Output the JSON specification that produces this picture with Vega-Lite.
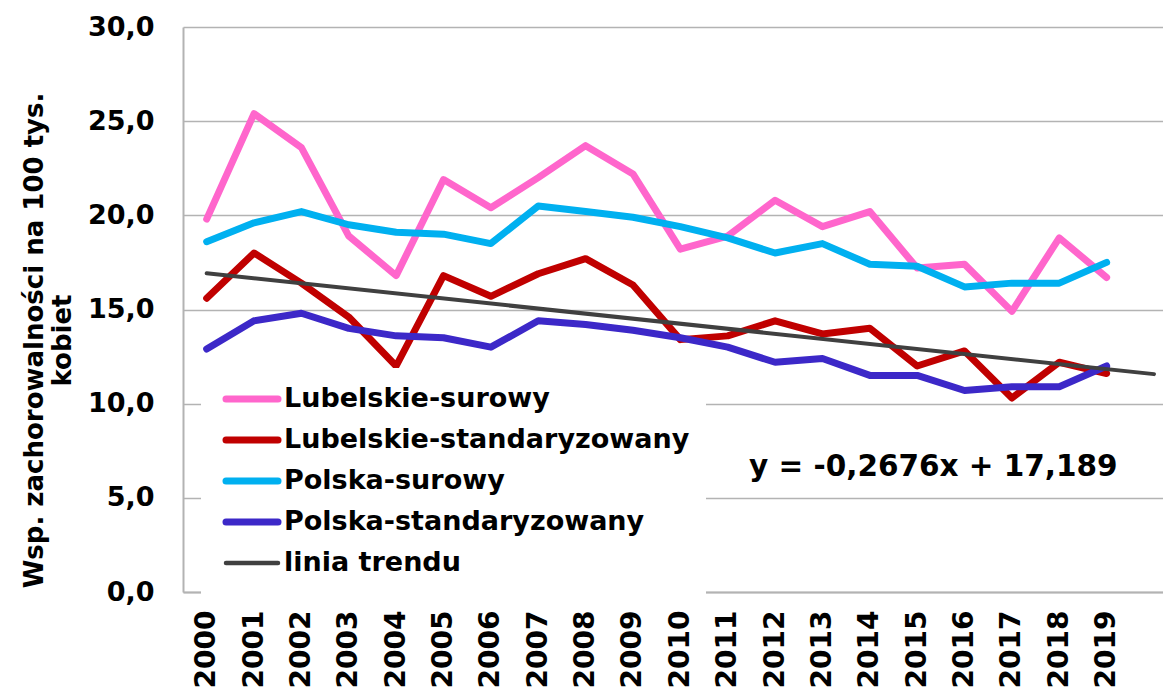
{
  "$schema": "https://vega.github.io/schema/vega-lite/v6.json",
  "width": 980,
  "height": 565,
  "autosize": {"type": "none"},
  "padding": {"left": 183, "top": 27, "right": 0, "bottom": 101},
  "background": "white",
  "config": {"view": {"stroke": null}, "font": "DejaVu Sans"},
  "data": {"values": [
    {"year": 2000, "series": "Lubelskie-surowy", "value": 19.8},
    {"year": 2001, "series": "Lubelskie-surowy", "value": 25.4},
    {"year": 2002, "series": "Lubelskie-surowy", "value": 23.6},
    {"year": 2003, "series": "Lubelskie-surowy", "value": 18.9},
    {"year": 2004, "series": "Lubelskie-surowy", "value": 16.8},
    {"year": 2005, "series": "Lubelskie-surowy", "value": 21.9},
    {"year": 2006, "series": "Lubelskie-surowy", "value": 20.4},
    {"year": 2007, "series": "Lubelskie-surowy", "value": 22.0},
    {"year": 2008, "series": "Lubelskie-surowy", "value": 23.7},
    {"year": 2009, "series": "Lubelskie-surowy", "value": 22.2},
    {"year": 2010, "series": "Lubelskie-surowy", "value": 18.2},
    {"year": 2011, "series": "Lubelskie-surowy", "value": 18.9},
    {"year": 2012, "series": "Lubelskie-surowy", "value": 20.8},
    {"year": 2013, "series": "Lubelskie-surowy", "value": 19.4},
    {"year": 2014, "series": "Lubelskie-surowy", "value": 20.2},
    {"year": 2015, "series": "Lubelskie-surowy", "value": 17.2},
    {"year": 2016, "series": "Lubelskie-surowy", "value": 17.4},
    {"year": 2017, "series": "Lubelskie-surowy", "value": 14.9},
    {"year": 2018, "series": "Lubelskie-surowy", "value": 18.8},
    {"year": 2019, "series": "Lubelskie-surowy", "value": 16.7},
    {"year": 2000, "series": "Lubelskie-standaryzowany", "value": 15.6},
    {"year": 2001, "series": "Lubelskie-standaryzowany", "value": 18.0},
    {"year": 2002, "series": "Lubelskie-standaryzowany", "value": 16.4},
    {"year": 2003, "series": "Lubelskie-standaryzowany", "value": 14.6},
    {"year": 2004, "series": "Lubelskie-standaryzowany", "value": 12.0},
    {"year": 2005, "series": "Lubelskie-standaryzowany", "value": 16.8},
    {"year": 2006, "series": "Lubelskie-standaryzowany", "value": 15.7},
    {"year": 2007, "series": "Lubelskie-standaryzowany", "value": 16.9},
    {"year": 2008, "series": "Lubelskie-standaryzowany", "value": 17.7},
    {"year": 2009, "series": "Lubelskie-standaryzowany", "value": 16.3},
    {"year": 2010, "series": "Lubelskie-standaryzowany", "value": 13.4},
    {"year": 2011, "series": "Lubelskie-standaryzowany", "value": 13.6},
    {"year": 2012, "series": "Lubelskie-standaryzowany", "value": 14.4},
    {"year": 2013, "series": "Lubelskie-standaryzowany", "value": 13.7},
    {"year": 2014, "series": "Lubelskie-standaryzowany", "value": 14.0},
    {"year": 2015, "series": "Lubelskie-standaryzowany", "value": 12.0},
    {"year": 2016, "series": "Lubelskie-standaryzowany", "value": 12.8},
    {"year": 2017, "series": "Lubelskie-standaryzowany", "value": 10.3},
    {"year": 2018, "series": "Lubelskie-standaryzowany", "value": 12.2},
    {"year": 2019, "series": "Lubelskie-standaryzowany", "value": 11.6},
    {"year": 2000, "series": "Polska-surowy", "value": 18.6},
    {"year": 2001, "series": "Polska-surowy", "value": 19.6},
    {"year": 2002, "series": "Polska-surowy", "value": 20.2},
    {"year": 2003, "series": "Polska-surowy", "value": 19.5},
    {"year": 2004, "series": "Polska-surowy", "value": 19.1},
    {"year": 2005, "series": "Polska-surowy", "value": 19.0},
    {"year": 2006, "series": "Polska-surowy", "value": 18.5},
    {"year": 2007, "series": "Polska-surowy", "value": 20.5},
    {"year": 2008, "series": "Polska-surowy", "value": 20.2},
    {"year": 2009, "series": "Polska-surowy", "value": 19.9},
    {"year": 2010, "series": "Polska-surowy", "value": 19.4},
    {"year": 2011, "series": "Polska-surowy", "value": 18.8},
    {"year": 2012, "series": "Polska-surowy", "value": 18.0},
    {"year": 2013, "series": "Polska-surowy", "value": 18.5},
    {"year": 2014, "series": "Polska-surowy", "value": 17.4},
    {"year": 2015, "series": "Polska-surowy", "value": 17.3},
    {"year": 2016, "series": "Polska-surowy", "value": 16.2},
    {"year": 2017, "series": "Polska-surowy", "value": 16.4},
    {"year": 2018, "series": "Polska-surowy", "value": 16.4},
    {"year": 2019, "series": "Polska-surowy", "value": 17.5},
    {"year": 2000, "series": "Polska-standaryzowany", "value": 12.9},
    {"year": 2001, "series": "Polska-standaryzowany", "value": 14.4},
    {"year": 2002, "series": "Polska-standaryzowany", "value": 14.8},
    {"year": 2003, "series": "Polska-standaryzowany", "value": 14.0},
    {"year": 2004, "series": "Polska-standaryzowany", "value": 13.6},
    {"year": 2005, "series": "Polska-standaryzowany", "value": 13.5},
    {"year": 2006, "series": "Polska-standaryzowany", "value": 13.0},
    {"year": 2007, "series": "Polska-standaryzowany", "value": 14.4},
    {"year": 2008, "series": "Polska-standaryzowany", "value": 14.2},
    {"year": 2009, "series": "Polska-standaryzowany", "value": 13.9},
    {"year": 2010, "series": "Polska-standaryzowany", "value": 13.5},
    {"year": 2011, "series": "Polska-standaryzowany", "value": 13.0},
    {"year": 2012, "series": "Polska-standaryzowany", "value": 12.2},
    {"year": 2013, "series": "Polska-standaryzowany", "value": 12.4},
    {"year": 2014, "series": "Polska-standaryzowany", "value": 11.5},
    {"year": 2015, "series": "Polska-standaryzowany", "value": 11.5},
    {"year": 2016, "series": "Polska-standaryzowany", "value": 10.7},
    {"year": 2017, "series": "Polska-standaryzowany", "value": 10.9},
    {"year": 2018, "series": "Polska-standaryzowany", "value": 10.9},
    {"year": 2019, "series": "Polska-standaryzowany", "value": 12.0},
    {"year": 2000, "series": "linia trendu", "value": 16.921},
    {"year": 2020, "series": "linia trendu", "value": 11.569}
  ]},
  "layer": [
    {
      "mark": {"type": "line", "strokeCap": "round", "strokeJoin": "round"},
      "encoding": {
        "x": {
          "field": "year",
          "type": "quantitative",
          "scale": {"domain": [1999.5, 2020.19], "nice": false, "zero": false},
          "axis": {
            "values": [2000, 2001, 2002, 2003, 2004, 2005, 2006, 2007, 2008, 2009, 2010, 2011, 2012, 2013, 2014, 2015, 2016, 2017, 2018, 2019],
            "format": "d",
            "title": null,
            "grid": false,
            "ticks": false,
            "domainColor": "#B3B3B3",
            "domainWidth": 2,
            "labelAngle": 270,
            "labelPadding": 18,
            "labelFont": "DejaVu Sans",
            "labelFontSize": 28,
            "labelFontWeight": "bold",
            "labelColor": "black",
            "labelOverlap": false,
            "labelFlush": false,
            "labelBound": false
          }
        },
        "y": {
          "field": "value",
          "type": "quantitative",
          "scale": {"domain": [0, 30], "nice": false, "zero": true},
          "axis": {
            "values": [0, 5, 10, 15, 20, 25, 30],
            "labelExpr": "replace(format(datum.value, '.1f'), '.', ',')",
            "grid": true,
            "gridColor": "#B3B3B3",
            "gridWidth": 1.5,
            "ticks": false,
            "domainColor": "#B3B3B3",
            "domainWidth": 2,
            "labelPadding": 29,
            "labelFont": "DejaVu Sans",
            "labelFontSize": 27,
            "labelFontWeight": "bold",
            "labelColor": "black",
            "title": ["Wsp. zachorowalności na 100 tys.", "kobiet"],
            "titleFont": "DejaVu Sans",
            "titleFontSize": 26,
            "titleFontWeight": "bold",
            "titleColor": "black",
            "titlePadding": 12,
            "titleY": 313
          }
        },
        "color": {
          "field": "series",
          "type": "nominal",
          "sort": null,
          "scale": {
            "domain": ["Lubelskie-surowy", "Lubelskie-standaryzowany", "Polska-surowy", "Polska-standaryzowany", "linia trendu"],
            "range": ["#FF66CC", "#C00000", "#00B0F0", "#3C28C8", "#404040"]
          },
          "legend": {
            "orient": "none",
            "legendX": 18,
            "legendY": 341,
            "title": null,
            "fillColor": "white",
            "padding": 16,
            "symbolType": "stroke",
            "symbolSize": 2704,
            "symbolStrokeWidth": 7,
            "symbolOffset": 21.5,
            "clipHeight": 30,
            "rowPadding": 11,
            "labelFont": "DejaVu Sans",
            "labelFontSize": 27,
            "labelFontWeight": "bold",
            "labelColor": "black",
            "labelOffset": 18.5,
            "labelLimit": 700,
            "encode": {
              "symbols": {
                "update": {
                  "strokeWidth": {"signal": "datum.value === 'linia trendu' ? 4.5 : 7"},
                  "strokeCap": {"value": "round"}
                }
              }
            }
          }
        },
        "strokeWidth": {
          "condition": {"test": "datum.series === 'linia trendu'", "value": 4},
          "value": 7
        }
      }
    },
    {
      "data": {"values": [{}]},
      "mark": {
        "type": "text",
        "text": "y = -0,2676x + 17,189",
        "font": "DejaVu Sans",
        "fontSize": 29.5,
        "fontWeight": "bold",
        "color": "black",
        "align": "center",
        "baseline": "middle"
      },
      "encoding": {
        "x": {"datum": 2015.34, "type": "quantitative"},
        "y": {"datum": 6.64, "type": "quantitative"}
      }
    }
  ]
}
